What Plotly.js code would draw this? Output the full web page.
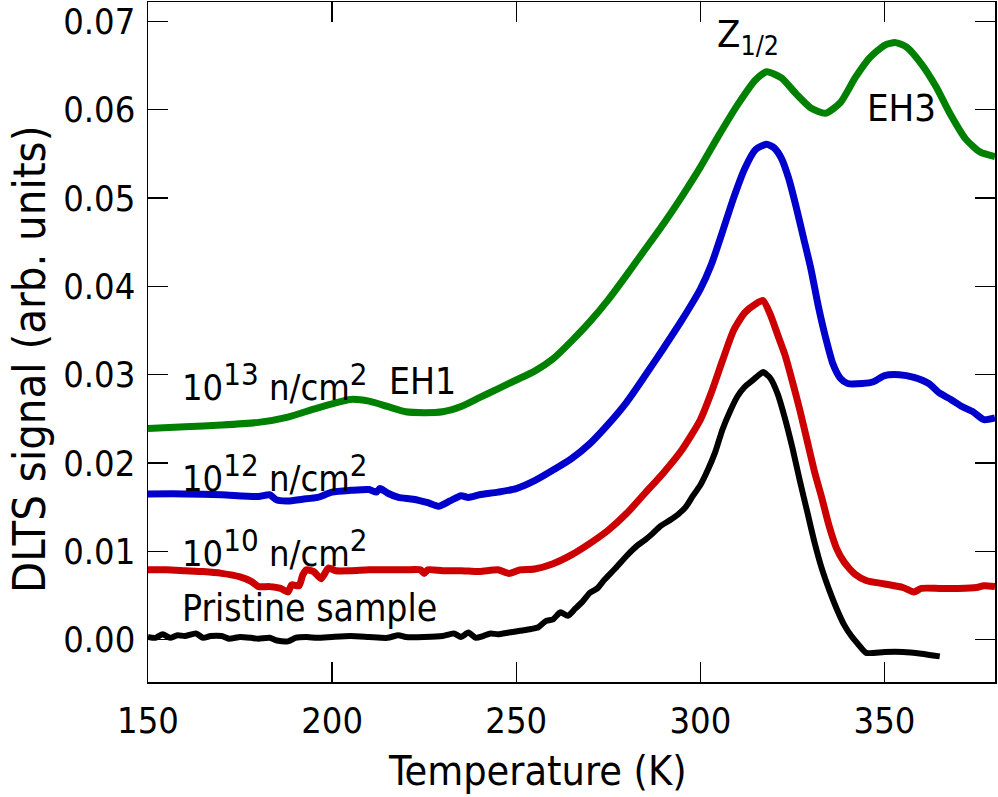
<!DOCTYPE html>
<html>
<head>
<meta charset="utf-8">
<script src="https://cdn.plot.ly/plotly-3.0.1.min.js"></script>
<style>
  body { margin: 0; background: #fff; }
  #plot { width: 998px; height: 797px; }
</style>
</head>
<body>
<div id="plot"></div>
<script>
// font used everywhere
var FONT = '"DejaVu Sans Condensed", "Liberation Sans Narrow", "DejaVu Sans", sans-serif';

// 10^13 n/cm^2 (green)
var temp13 = [150, 160, 170, 180, 188, 195, 200, 205, 210, 215, 220, 225, 230, 235, 240, 245,
              250, 255, 260, 265, 270, 275, 280, 285, 290, 295, 300, 305, 310, 315, 318, 322,
              326, 330, 334, 338, 342, 346, 350, 353, 356, 360, 364, 368, 372, 376, 380];
var sig13 = [0.0239, 0.0241, 0.0243, 0.0246, 0.0252, 0.0261, 0.0267, 0.0272, 0.0270, 0.0264,
             0.0258, 0.0257, 0.0258, 0.0264, 0.0274, 0.0284, 0.0294, 0.0304, 0.0318, 0.0338,
             0.0360, 0.0385, 0.0413, 0.0442, 0.0471, 0.0502, 0.0535, 0.0571, 0.0605, 0.0634,
             0.0643, 0.0636, 0.0618, 0.0602, 0.0596, 0.0608, 0.0636, 0.0659, 0.0673, 0.0676,
             0.0671, 0.0652, 0.0626, 0.0594, 0.0567, 0.0552, 0.0547];

// 10^12 n/cm^2 (blue)
var temp12 = [150, 160, 170, 180, 183, 185, 188, 192, 196, 200, 205, 210, 212, 213, 215, 218,
              222, 226, 229, 232, 235, 237, 240, 245, 250, 255, 260, 265, 270, 275, 280, 285,
              290, 295, 300, 303, 306, 309, 312, 315, 318, 320, 322, 324, 326, 328, 330, 332,
              334, 336, 338, 340, 344, 347, 350, 354, 358, 362, 365, 368, 371, 374, 377, 380];
var sig12 = [0.0165, 0.0165, 0.0164, 0.0162, 0.0164, 0.0158, 0.0157, 0.0159, 0.0161, 0.0167,
             0.0169, 0.0170, 0.0167, 0.0171, 0.0166, 0.0161, 0.0159, 0.0155, 0.0151, 0.0157,
             0.0163, 0.0161, 0.0164, 0.0167, 0.0171, 0.0180, 0.0192, 0.0205, 0.0222, 0.0244,
             0.0269, 0.0299, 0.0330, 0.0362, 0.0397, 0.0425, 0.0462, 0.0500, 0.0533, 0.0555,
             0.0561, 0.0557, 0.0545, 0.0522, 0.0490, 0.0455, 0.0420, 0.0378, 0.0342, 0.0312,
             0.0296, 0.0290, 0.0290, 0.0292, 0.0299, 0.0300, 0.0297, 0.0290, 0.0279, 0.0272,
             0.0264, 0.0258, 0.0249, 0.0251];

// 10^10 n/cm^2 (red)
var temp10 = [150, 155, 160, 165, 170, 175, 178, 180, 183, 186, 188, 189, 191, 192, 193, 195,
              197, 199, 201, 205, 210, 215, 220, 224, 225, 226, 230, 235, 240, 245, 248, 251,
              255, 260, 265, 270, 275, 280, 285, 290, 295, 300, 303, 306, 309, 312, 315, 317,
              319, 321, 323, 325, 327, 329, 331, 333, 335, 337, 339, 342, 345, 350, 355, 358,
              360, 365, 370, 375, 377, 380];
var sig10 = [0.0079, 0.0079, 0.0078, 0.0077, 0.0075, 0.0071, 0.0066, 0.0060, 0.0060, 0.0058,
             0.0054, 0.0062, 0.0061, 0.0073, 0.0079, 0.0077, 0.0069, 0.0081, 0.0078, 0.0078,
             0.0079, 0.0079, 0.0079, 0.0079, 0.0075, 0.0079, 0.0078, 0.0078, 0.0077, 0.0079,
             0.0075, 0.0079, 0.0080, 0.0086, 0.0096, 0.0109, 0.0124, 0.0143, 0.0166, 0.0189,
             0.0215, 0.0249, 0.0280, 0.0316, 0.0350, 0.0370, 0.0380, 0.0384, 0.0368, 0.0345,
             0.0322, 0.0292, 0.0260, 0.0225, 0.0190, 0.0160, 0.0128, 0.0103, 0.0088, 0.0074,
             0.0067, 0.0063, 0.0059, 0.0054, 0.0058, 0.0058, 0.0058, 0.0059, 0.0061, 0.0060];

// pristine sample (black)
var tempP = [150, 152, 154, 156, 158, 160, 163, 165, 167, 170, 172, 175, 178, 180, 183, 185,
             188, 190, 193, 196, 200, 205, 210, 215, 218, 220, 225, 230, 233, 235, 237, 239,
             241, 243, 245, 248, 251, 254, 256, 258, 260, 262, 264, 266, 268, 270, 272, 274,
             277, 280, 283, 285, 287, 289, 292, 294, 296, 298, 300, 302, 304, 306, 308, 310,
             312, 314, 316, 317, 319, 321, 323, 325, 327, 329, 331, 333, 335, 337, 339, 341,
             343, 345, 350, 355, 360, 365];
var sigP = [0.0003, 0.0002, 0.0006, 0.0002, 0.0005, 0.0004, 0.0007, 0.0002, 0.0004, 0.0004,
            0.0001, 0.0003, 0.0002, 0.0001, 0.0002, -0.0001, -0.0002, 0.0002, 0.0003, 0.0002,
            0.0003, 0.0004, 0.0003, 0.0002, 0.0005, 0.0003, 0.0003, 0.0004, 0.0007, 0.0003,
            0.0008, 0.0002, 0.0004, 0.0007, 0.0006, 0.0008, 0.0010, 0.0012, 0.0014, 0.0021,
            0.0023, 0.0031, 0.0027, 0.0035, 0.0043, 0.0053, 0.0058, 0.0068, 0.0081, 0.0095,
            0.0107, 0.0113, 0.0120, 0.0128, 0.0136, 0.0142, 0.0150, 0.0163, 0.0175, 0.0192,
            0.0212, 0.0238, 0.0258, 0.0275, 0.0286, 0.0293, 0.0300, 0.0303, 0.0296, 0.0278,
            0.0250, 0.0217, 0.0180, 0.0145, 0.0110, 0.0080, 0.0056, 0.0035, 0.0017, 0.0004,
            -0.0006, -0.0015, -0.0014, -0.0014, -0.0016, -0.0019];

// tick values
var yTicks = [0, 0.01, 0.02, 0.03, 0.04, 0.05, 0.06, 0.07];
var xTicks = [150, 200, 250, 300, 350];

function line(x, y, color, w) {
    return {x: x, y: y, type: 'scatter', mode: 'lines',
            line: {color: color, width: w, shape: 'spline', smoothing: 0.6},
            hoverinfo: 'skip'};
}

var data = [
    line(tempP, sigP, '#000000', 6),
    line(temp10, sig10, '#cc0000', 7),
    line(temp12, sig12, '#0000cc', 7),
    line(temp13, sig13, '#008000', 7)
];

var axisStyle = {
    showline: true, linecolor: '#000', linewidth: 1.5, mirror: 'ticks',
    ticks: 'inside', ticklen: 20, tickwidth: 1.5, tickcolor: '#000',
    showgrid: false, zeroline: false,
    tickfont: {family: FONT, size: 36, color: '#000'}
};

// superscript helper, a bit larger than plotly's default
function sup(s) { return '<sup><span style="font-size:31px">' + s + '</span></sup>'; }

var layout = {
    width: 998, height: 797,
    margin: {l: 148, r: 3, t: 2, b: 115},
    paper_bgcolor: '#fff', plot_bgcolor: '#fff',
    showlegend: false,
    font: {family: FONT, color: '#000'},
    xaxis: Object.assign({}, axisStyle, {
        range: [150, 380], tickvals: xTicks, ticklabelstandoff: 6
    }),
    yaxis: Object.assign({}, axisStyle, {
        range: [-0.0048, 0.0722], tickvals: yTicks, tickformat: '.2f', ticklabelstandoff: 4
    }),
    annotations: [
        {text: 'Temperature (K)', xref: 'paper', yref: 'paper', x: 0.46, y: -0.131,
         xanchor: 'center', yanchor: 'middle', showarrow: false, font: {size: 41}},
        {text: 'DLTS signal (arb. units)', xref: 'paper', yref: 'paper', x: -0.1405, y: 0.475,
         xanchor: 'center', yanchor: 'middle', textangle: -90, showarrow: false, font: {size: 45}},
        {text: '10' + sup('13') + ' n/cm' + sup('2'), x: 158.7, y: 0.0292, xanchor: 'left',
         yanchor: 'middle', showarrow: false, font: {size: 36}},
        {text: 'EH1', x: 214.9, y: 0.0292, xanchor: 'left', yanchor: 'middle',
         showarrow: false, font: {size: 37}},
        {text: '10' + sup('12') + ' n/cm' + sup('2'), x: 158.7, y: 0.0189, xanchor: 'left',
         yanchor: 'middle', showarrow: false, font: {size: 36}},
        {text: '10' + sup('10') + ' n/cm' + sup('2'), x: 158.7, y: 0.0104, xanchor: 'left',
         yanchor: 'middle', showarrow: false, font: {size: 36}},
        {text: 'Pristine sample', x: 158.7, y: 0.0035, xanchor: 'left', yanchor: 'middle',
         showarrow: false, font: {size: 37}},
        {text: 'Z<sub>1/2</sub>', x: 304, y: 0.0683, xanchor: 'left', yanchor: 'middle',
         showarrow: false, font: {size: 38}},
        {text: 'EH3', x: 344.7, y: 0.0602, xanchor: 'left', yanchor: 'middle',
         showarrow: false, font: {size: 38}}
    ]
};

Plotly.newPlot('plot', data, layout, {staticPlot: true});
</script>
</body>
</html>
